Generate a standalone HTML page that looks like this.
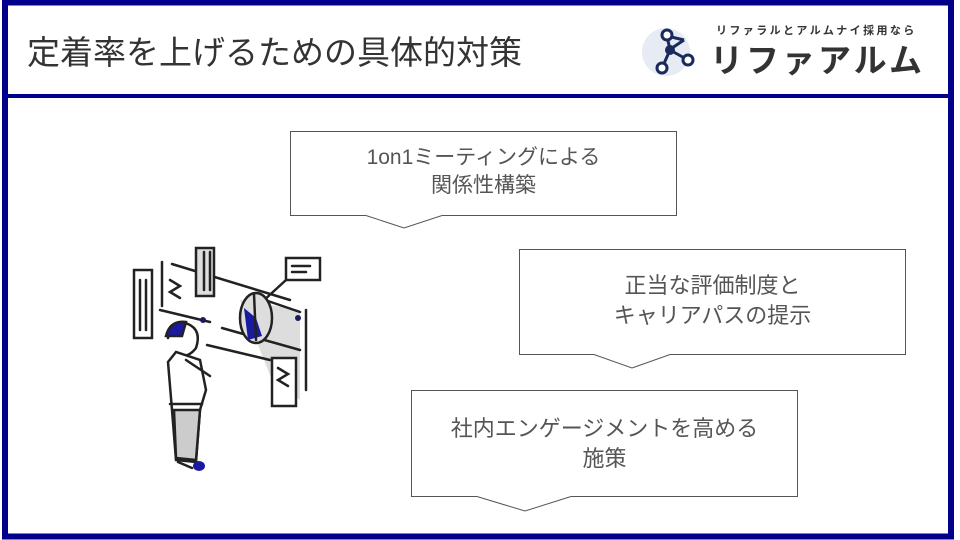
<!DOCTYPE html>
<html><head><meta charset="utf-8"><style>
html,body{margin:0;padding:0;background:#fff;}
body{width:960px;height:540px;position:relative;overflow:hidden;font-family:"Liberation Sans","Noto Sans CJK JP",sans-serif;}
.t{position:absolute;color:#555;text-align:center;font-size:22px;line-height:30px;}
</style></head><body>
<svg width="960" height="540" style="position:absolute;left:0;top:0">
  <rect x="0" y="0" width="960" height="540" fill="#fff"/>
  <rect x="5" y="2.5" width="946" height="534" fill="none" stroke="#00008b" stroke-width="6"/>
  <rect x="5" y="94" width="946" height="4" fill="#00008b"/>
  <circle cx="666" cy="52" r="24" fill="#e6ebf4"/>
  <g stroke="#1a2a5c" stroke-width="3" fill="#fff">
    <line x1="667" y1="36" x2="670" y2="50"/><line x1="670" y1="50" x2="688" y2="60"/><line x1="670" y1="50" x2="662" y2="68"/><line x1="667" y1="36" x2="684" y2="40"/><line x1="684" y1="40" x2="672" y2="48"/>
    <circle cx="667" cy="35" r="5"/><circle cx="688" cy="60" r="5"/><circle cx="662" cy="68" r="5"/>
  </g>
  <circle cx="670" cy="50" r="5" fill="#1a2a5c"/>
  <g fill="#fff" stroke="#555" stroke-width="1">
    <path d="M290.5 131.5H676.5V215.5H442L404 228L366 215.5H290.5Z"/>
    <path d="M519.5 249.5H905.5V354.5H670L632 368L594 354.5H519.5Z"/>
    <path d="M411.5 390.5H797.5V496.5H571L525 511L477 496.5H411.5Z"/>
  </g>
  <g stroke="#222" stroke-width="2.5" fill="none" stroke-linecap="round">
    <path d="M240 300 L300 310 L300 400 L272 380 Z" fill="#ddd" stroke="none"/>
    <line x1="172" y1="264" x2="290" y2="300"/>
    <line x1="160" y1="310" x2="210" y2="322"/>
    <line x1="222" y1="328" x2="300" y2="350"/>
    <line x1="207" y1="345" x2="270" y2="360"/>
    <line x1="265" y1="300" x2="300" y2="312"/>
    <rect x="134" y="270" width="18" height="68" fill="#fff"/>
    <line x1="140" y1="280" x2="140" y2="330"/><line x1="146" y1="280" x2="146" y2="330"/>
    <line x1="162" y1="262" x2="162" y2="306"/>
    <path d="M170 280l10 6-10 6 10 6" />
    <rect x="196" y="248" width="18" height="48" fill="#ddd"/>
    <line x1="204" y1="252" x2="204" y2="290"/><line x1="210" y1="252" x2="210" y2="290"/>
    <rect x="286" y="258" width="34" height="22" fill="#fff"/>
    <line x1="292" y1="266" x2="310" y2="266"/><line x1="292" y1="272" x2="306" y2="272"/>
    <line x1="286" y1="280" x2="262" y2="302"/>
    <ellipse cx="256" cy="318" rx="16" ry="25" fill="#ddd"/>
    <path d="M244 308 L256 318 L262 336 L248 340 Z" fill="#1a1aa0" stroke="none"/>
    <line x1="254" y1="294" x2="256" y2="340"/>
    <rect x="272" y="358" width="24" height="48" fill="#fff"/>
    <path d="M278 368l10 6-10 6 10 6"/>
    <line x1="306" y1="310" x2="306" y2="390"/>
    <path d="M168 338 q4 -20 20 -14 q14 6 8 24 q-6 8 -14 8" fill="#fff"/>
    <path d="M166 336 q4 -16 20 -14 l-4 14 z" fill="#1a1aa0"/>
    <path d="M176 352 L168 362 L172 410 L176 460 L196 462 L200 410 L206 390 L200 360 Z" fill="#fff"/>
    <path d="M174 410 L176 458 L196 460 L200 410 Z" fill="#ccc"/>
    <line x1="186" y1="360" x2="210" y2="376"/>
    <line x1="170" y1="404" x2="202" y2="404"/>
    <path d="M178 462 l14 6" />
  </g>
  <circle cx="203" cy="320" r="3" fill="#1a1a60"/>
  <circle cx="298" cy="318" r="3" fill="#1a1a60"/>
  <ellipse cx="199" cy="466" rx="6" ry="5" fill="#1a1aa0"/>
</svg>
<div style="position:absolute;left:27px;top:33px;font-size:33px;color:#333;line-height:40px;white-space:nowrap;">定着率を上げるための具体的対策</div>
<div style="position:absolute;left:716px;top:22px;font-size:11px;color:#333;letter-spacing:2.4px;font-weight:bold;white-space:nowrap;">リファラルとアルムナイ採用なら</div>
<div style="position:absolute;left:710px;top:41px;font-size:33px;color:#333;letter-spacing:3px;font-weight:bold;line-height:40px;white-space:nowrap;">リファアルム</div>
<div class="t" style="left:290px;top:144px;width:387px;font-size:21px;line-height:28px;">1on1ミーティングによる<br>関係性構築</div>
<div class="t" style="left:519px;top:271px;width:387px;">正当な評価制度と<br>キャリアパスの提示</div>
<div class="t" style="left:411px;top:414px;width:387px;">社内エンゲージメントを高める<br>施策</div>
</body></html>
